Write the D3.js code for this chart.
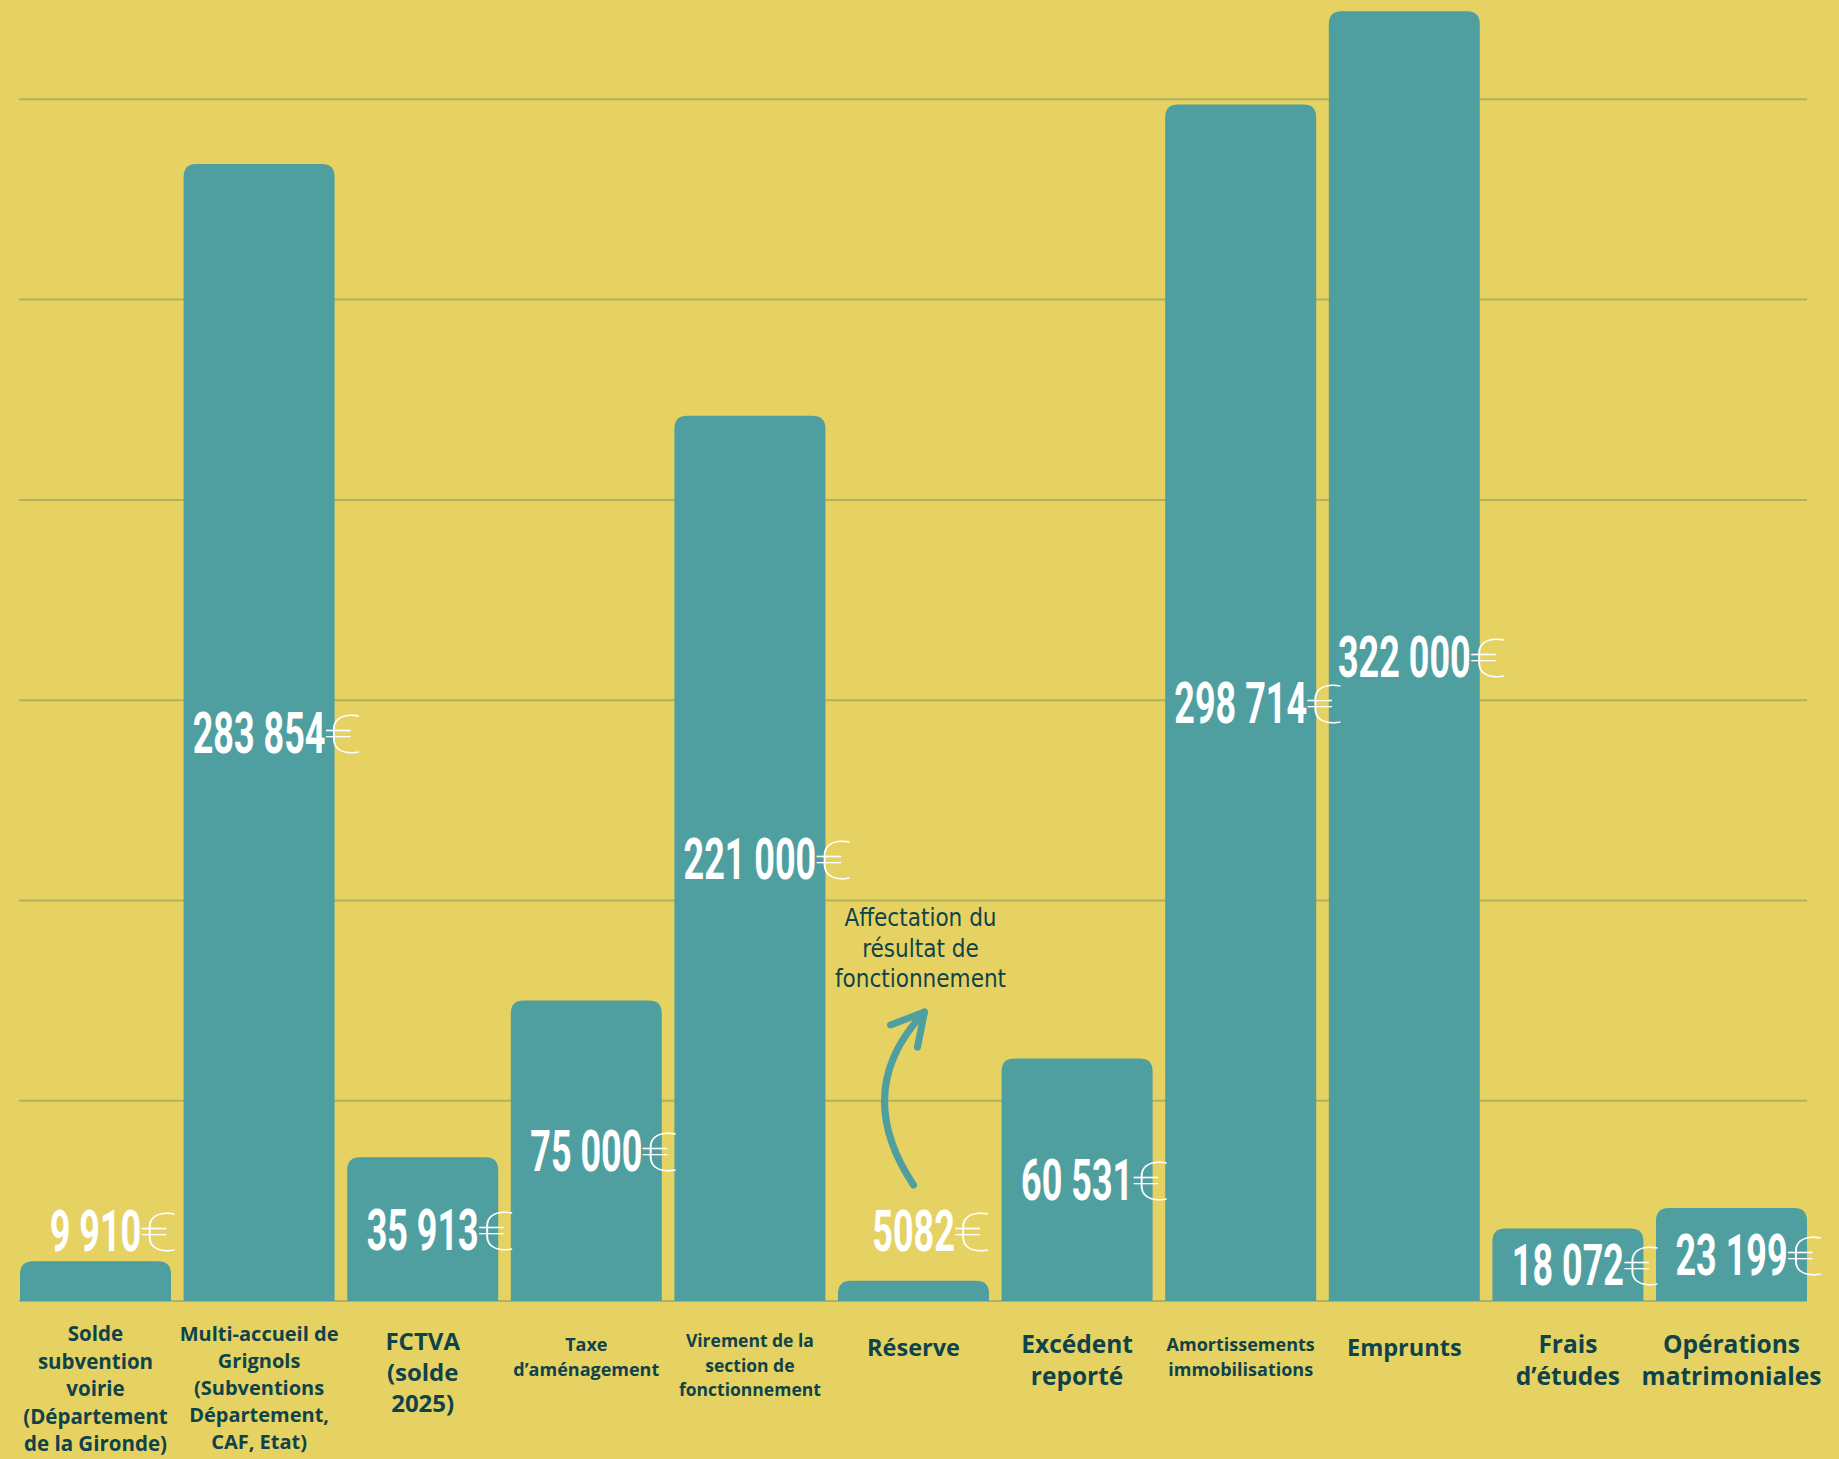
<!DOCTYPE html>
<html>
<head>
<meta charset="utf-8">
<script src="https://cdn.jsdelivr.net/npm/d3@7"></script>
<style>
body { margin: 0; background: #e5d262; }
svg { display: block; }
</style>
</head>
<body>
<script>
// canvas
var w = 1839, h = 1459;

// data
var categories = ["Solde subvention voirie", "Multi-accueil de Grignols", "FCTVA", "Taxe d’aménagement",
  "Virement de la section de fonctionnement", "Réserve", "Excédent reporté", "Amortissements immobilisations",
  "Emprunts", "Frais d’études", "Opérations matrimoniales"];
var labelLines = [
  ["Solde", "subvention", "voirie", "(Département", "de la Gironde)"],
  ["Multi-accueil de", "Grignols", "(Subventions", "Département,", "CAF, Etat)"],
  ["FCTVA", "(solde", "2025)"],
  ["Taxe", "d’aménagement"],
  ["Virement de la", "section de", "fonctionnement"],
  ["Réserve"],
  ["Excédent", "reporté"],
  ["Amortissements", "immobilisations"],
  ["Emprunts"],
  ["Frais", "d’études"],
  ["Opérations", "matrimoniales"]
];
var values = [9910, 283854, 35913, 75000, 221000, 5082, 60531, 298714, 322000, 18072, 23199];
var valueLabels = ["9 910", "283 854", "35 913", "75 000", "221 000", "5082", "60 531", "298 714", "322 000", "18 072", "23 199"];
var gridTicks = [0, 50000, 100000, 150000, 200000, 250000, 300000];
var noteLines = ["Affectation du", "résultat de", "fonctionnement"];

// label font size for each category (style)
var labelSize = [20.5, 20, 24, 18, 17.5, 23.5, 24.5, 18, 23.5, 24.5, 24.5];

var teal = "#4f9fa0", dark = "#0f434a";

var svg = d3.select("body").append("svg")
  .attr("width", w)
  .attr("height", h);

svg.append("rect").attr("width", w).attr("height", h).attr("fill", "#e5d262");

var x = d3.scaleBand()
  .domain(categories)
  .range([20, 1807])
  .paddingInner(0.077)
  .paddingOuter(0);

var y = d3.scaleLinear()
  .domain([0, 324800])
  .range([1301, 0]);

// gridlines
svg.append("g").selectAll("line")
  .data(gridTicks)
  .join("line")
  .attr("x1", 19)
  .attr("x2", 1807)
  .attr("y1", d => y(d))
  .attr("y2", d => y(d))
  .attr("stroke", "#b2b25c")
  .attr("stroke-width", 2);

// bars with rounded top corners
function barPath(x0, y0, bw, y1) {
  var r = Math.min(13, (y1 - y0));
  return "M" + x0 + "," + y1 +
    "V" + (y0 + r) +
    "Q" + x0 + "," + y0 + " " + (x0 + r) + "," + y0 +
    "H" + (x0 + bw - r) +
    "Q" + (x0 + bw) + "," + y0 + " " + (x0 + bw) + "," + (y0 + r) +
    "V" + y1 + "Z";
}

svg.append("g").selectAll("path")
  .data(values)
  .join("path")
  .attr("d", (d, i) => barPath(x(categories[i]), y(d), x.bandwidth(), y(0)))
  .attr("fill", teal);

// value labels
function labelBase(d) {
  var top = y(d), bottom = y(0);
  if (bottom - top < 50) return bottom - 50;
  return (top + bottom) / 2 + 20.5;
}

var vl = svg.append("g").selectAll("g")
  .data(values)
  .join("g")
  .attr("transform", (d, i) => "translate(" + (x(categories[i]) + x.bandwidth() / 2) + "," + labelBase(d) + ")");

vl.append("text")
  .attr("class", "num")
  .attr("transform", "scale(0.62,1)")
  .attr("text-anchor", "middle")
  .style("font-family", "Roboto")
  .style("font-weight", 700)
  .style("font-size", "58px")
  .attr("fill", "#fff")
  .text((d, i) => valueLabels[i]);

vl.each(function () {
  var g = d3.select(this);
  var wn = g.select("text.num").node().getComputedTextLength() * 0.62;
  g.append("text")
    .attr("transform", "translate(" + (wn / 2 - 2) + ",0) scale(1.3,1)")
    .style("font-family", "Roboto")
    .style("font-weight", 100)
    .style("font-size", "54px")
    .attr("fill", "#fff")
    .text("€");
});

// category labels
var cl = svg.append("g").selectAll("text")
  .data(labelLines)
  .join("text")
  .attr("text-anchor", "middle")
  .style("font-family", "Open Sans")
  .style("font-weight", 700)
  .style("font-size", (d, i) => labelSize[i] + "px")
  .attr("fill", dark);

cl.each(function (lines, i) {
  var s = labelSize[i];
  var lead = s + 7;
  var first = 1348 - (lines.length - 1) * 3.5 + s * 0.36;
  d3.select(this).selectAll("tspan")
    .data(lines)
    .join("tspan")
    .attr("x", x(categories[i]) + x.bandwidth() / 2)
    .attr("y", (l, j) => first + j * lead)
    .text(l => l);
});

// annotation for Réserve
var cx = x("Réserve") + x.bandwidth() / 2;

svg.append("text")
  .attr("text-anchor", "middle")
  .style("font-family", "DejaVu Sans Condensed")
  .style("font-size", "24px")
  .attr("fill", dark)
  .selectAll("tspan")
  .data(noteLines)
  .join("tspan")
  .attr("x", cx + 7)
  .attr("y", (d, j) => 926 + j * 30.5)
  .text(d => d);

svg.append("path")
  .attr("d", "M" + cx + ",1185 Q" + (cx - 63) + ",1090 " + (cx + 11) + ",1012")
  .attr("fill", "none")
  .attr("stroke", teal)
  .attr("stroke-width", 7)
  .attr("stroke-linecap", "round");

svg.append("path")
  .attr("d", "M" + (cx - 23) + ",1025 L" + (cx + 11) + ",1012 L" + (cx + 4) + ",1047")
  .attr("fill", "none")
  .attr("stroke", teal)
  .attr("stroke-width", 7)
  .attr("stroke-linecap", "round")
  .attr("stroke-linejoin", "round");
</script>
</body>
</html>
